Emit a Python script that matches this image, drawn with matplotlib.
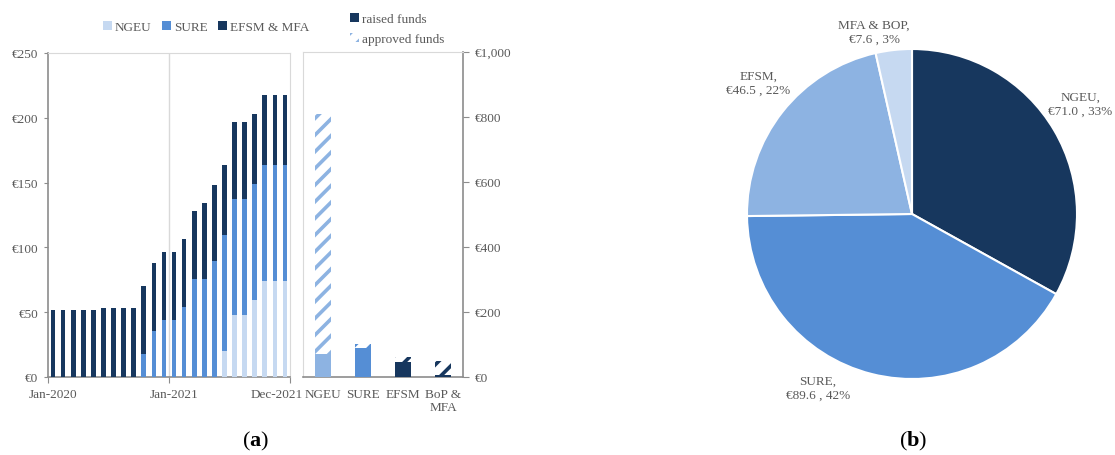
import matplotlib
import matplotlib.pyplot as plt
import numpy as np
import pandas as pd
from matplotlib.patches import Patch

matplotlib.use('Agg')

# monthly stock of EU bonds (bn EUR), stacked segments
months = pd.date_range('2020-01-01', '2021-12-01', freq='MS')
ngeu = [0] * 17 + [20.3, 47.6, 47.6, 59.4, 73.8, 73.8, 73.8]
sure = [0] * 9 + [17.5, 35.3, 44.0, 44.0, 53.8, 75.6, 75.6] + [89.6] * 8
efsm_mfa = [51.7, 51.7, 51.7, 51.7, 51.7, 53.5, 53.0, 53.0, 53.0, 52.5, 52.7, 52.2,
            52.2, 52.4, 52.4, 58.4, 58.8, 53.7, 59.3, 59.3, 54.0, 54.2, 54.2, 54.2]

# raised vs approved per programme
programmes = ['NGEU', 'SURE', 'EFSM', 'BoP &\nMFA']
raised = [71.0, 89.6, 46.5, 7.6]
approved = [806.9, 100.0, 60.0, 50.0]

# pie of outstanding amounts
pie_names = ['NGEU', 'SURE', 'EFSM', 'MFA & BOP']
pie_values = [71.0, 89.6, 46.5, 7.6]
pie_pct = [33, 42, 22, 3]

C_LIGHT = '#c6d9f1'
C_MID = '#558ed5'
C_SOFT = '#8db3e2'
C_DARK = '#17375e'
TXT = '#595959'
GRID = '#d9d9d9'
AXC = '#8c8c8c'

plt.rcParams['font.family'] = ['Liberation Serif', 'DejaVu Serif']
plt.rcParams['font.size'] = 9.5
plt.rcParams['hatch.linewidth'] = 2.6
plt.rcParams['mathtext.fontset'] = 'custom'
plt.rcParams['mathtext.rm'] = 'Liberation Serif'
plt.rcParams['mathtext.bf'] = 'Liberation Serif:bold'

W, H = 1115, 456
fig = plt.figure(figsize=(W / 100, H / 100), dpi=100)


def box(x0, y0, x1, y1):
    return [x0 / W, 1 - y1 / H, (x1 - x0) / W, (y1 - y0) / H]


# ---- (a) left: stacked monthly bars
ax1 = fig.add_axes(box(48, 54, 290, 378))
x = np.arange(len(months))
ngeu_a = np.array(ngeu)
sure_a = np.array(sure)
efsm_a = np.array(efsm_mfa)
bw = 0.47
ax1.bar(x, ngeu_a, bw, color=C_LIGHT, label='NGEU', zorder=3)
ax1.bar(x, sure_a, bw, bottom=ngeu_a, color=C_MID, label='SURE', zorder=3)
ax1.bar(x, efsm_a, bw, bottom=ngeu_a + sure_a, color=C_DARK, label='EFSM & MFA', zorder=3)
ax1.set_xlim(-0.5, len(months) - 0.5)
ax1.set_ylim(0, 250)
ax1.set_yticks(np.arange(0, 251, 50))
ax1.set_yticklabels([f'€{v}' for v in range(0, 251, 50)], color=TXT)
ax1.set_xticks([-0.5, 11.5, 23.5])
ax1.set_xticklabels([])
ax1.set_xticks([0, 12, 22.2], minor=True)
ax1.set_xticklabels([months[0].strftime('%b-%Y'), months[12].strftime('%b-%Y'),
                     months[23].strftime('%b-%Y')], minor=True, color=TXT)
ax1.tick_params(axis='x', which='major', length=4, color=AXC, direction='out')
ax1.tick_params(axis='x', which='minor', length=0, pad=8)
ax1.tick_params(axis='y', length=3, color=AXC, pad=4)
ax1.axvline(11.5, color=GRID, lw=1, zorder=1)
for s in ['top', 'right']:
    ax1.spines[s].set_color(GRID)
for s in ['left', 'bottom']:
    ax1.spines[s].set_color(AXC)
    ax1.spines[s].set_linewidth(1.2)

fig.legend(*ax1.get_legend_handles_labels(), loc='center', bbox_to_anchor=(206 / W, 1 - 28 / H),
           ncol=3, frameon=False, handlelength=0.7, handleheight=0.7, handletextpad=0.2,
           columnspacing=0.8, labelcolor=TXT, fontsize=9.5)

# ---- (a) right: raised vs approved
ax2 = fig.add_axes(box(303, 52.5, 463, 378))
xp = np.arange(len(programmes))
colors = [C_SOFT, C_MID, C_DARK, C_DARK]
ax2.bar(xp, approved, 0.42, facecolor='white', edgecolor=colors, hatch='//', linewidth=0, zorder=2)
ax2.bar(xp, raised, 0.42, color=colors, zorder=3)
ax2.set_xlim(-0.5, len(programmes) - 0.5)
ax2.set_ylim(0, 1000)
ax2.yaxis.tick_right()
ax2.set_yticks(np.arange(0, 1001, 200))
ax2.set_yticklabels([f'€{v:,}' for v in range(0, 1001, 200)], color=TXT)
ax2.set_xticks(xp)
ax2.set_xticklabels(programmes, color=TXT, linespacing=1.15)
ax2.tick_params(axis='x', length=0, pad=8)
ax2.tick_params(axis='y', length=4, color=AXC, pad=4.5)
for s in ['top', 'left']:
    ax2.spines[s].set_color(GRID)
for s in ['right', 'bottom']:
    ax2.spines[s].set_color(AXC)
    ax2.spines[s].set_linewidth(1.2)

h2 = [Patch(facecolor=C_DARK, edgecolor='none'),
      Patch(facecolor='white', edgecolor=C_SOFT, hatch='//', linewidth=0)]
fig.legend(h2, ['raised funds', 'approved funds'], loc='center', bbox_to_anchor=(397 / W, 1 - 30 / H),
           ncol=1, frameon=False, handlelength=0.7, handleheight=0.7, handletextpad=0.2,
           labelspacing=0.55, labelcolor=TXT, fontsize=9.5)

fig.text(256 / W, 1 - 441 / H, r'($\mathbf{a}$)', ha='center', va='center', fontsize=16, color='black')

# ---- (b) pie
ax3 = fig.add_axes(box(747, 50, 1077, 380))
ax3.pie(pie_values, colors=[C_DARK, C_MID, C_SOFT, C_LIGHT], startangle=90, counterclock=False,
        radius=1, wedgeprops=dict(edgecolor='white', linewidth=1.5))
ax3.set_xlim(-1, 1)
ax3.set_ylim(-1, 1)
label_pos = [(1.02, 0.67), (-0.57, -1.055), (-0.93, 0.795), (-0.23, 1.105)]
for name, v, p, (lx, ly) in zip(pie_names, pie_values, pie_pct, label_pos):
    ax3.text(lx, ly, f'{name},\n€{v:.1f} , {p}%', ha='center', va='center', color=TXT,
             fontsize=9.5, linespacing=1.2, clip_on=False)

fig.text(913 / W, 1 - 441 / H, r'($\mathbf{b}$)', ha='center', va='center', fontsize=16, color='black')

plt.savefig('out.png', dpi=100)
plt.close(fig)
